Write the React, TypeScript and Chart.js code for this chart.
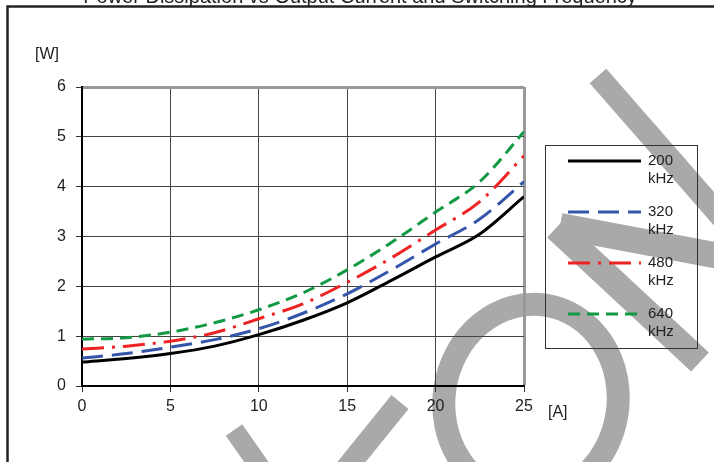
import React, { useEffect, useRef } from "react";
import { Chart, registerables } from "chart.js";

Chart.register(...registerables);

const currentA = [0, 2.5, 5, 7.5, 10, 12.5, 15, 17.5, 20, 22.5, 25];
const p200 = [0.48, 0.55, 0.65, 0.8, 1.03, 1.32, 1.67, 2.12, 2.59, 3.05, 3.8];
const p320 = [0.56, 0.65, 0.78, 0.93, 1.15, 1.46, 1.85, 2.33, 2.85, 3.35, 4.1];
const p480 = [0.74, 0.8, 0.9, 1.07, 1.35, 1.65, 2.08, 2.57, 3.13, 3.7, 4.62];
const p640 = [0.94, 0.97, 1.08, 1.27, 1.53, 1.87, 2.33, 2.88, 3.49, 4.1, 5.1];
const seriesLabels = ["200\nkHz", "320\nkHz", "480\nkHz", "640\nkHz"];
const xTicks = [0, 5, 10, 15, 20, 25];
const yTicks = [0, 1, 2, 3, 4, 5, 6];
const titleText = "Power Dissipation vs Output Current and Switching Frequency";
const xUnit = "[A]";
const yUnit = "[W]";

const FONT = "'Liberation Sans', Arial, sans-serif";

const decorPlugin = {
  id: "decor",
  beforeDraw(chart: any) {
    const ctx = chart.ctx;
    ctx.save();
    ctx.fillStyle = "#fff";
    ctx.fillRect(0, 0, chart.width, chart.height);
    // watermark
    ctx.strokeStyle = "#a9a9a9";
    ctx.lineCap = "butt";
    ctx.lineWidth = 23;
    ctx.beginPath();
    ctx.ellipse(531, 401, 87, 97, 0.15, 0, Math.PI * 2);
    ctx.stroke();
    ctx.lineWidth = 22;
    ctx.beginPath();
    ctx.moveTo(598, 76);
    ctx.lineTo(730, 227);
    ctx.stroke();
    ctx.lineWidth = 26;
    ctx.beginPath();
    ctx.moveTo(560, 226);
    ctx.lineTo(730, 258);
    ctx.stroke();
    ctx.beginPath();
    ctx.moveTo(556, 228);
    ctx.lineTo(700, 362);
    ctx.stroke();
    ctx.lineWidth = 22;
    ctx.beginPath();
    ctx.moveTo(400, 402);
    ctx.lineTo(345, 470);
    ctx.stroke();
    ctx.lineWidth = 20;
    ctx.beginPath();
    ctx.moveTo(234, 430);
    ctx.lineTo(262, 470);
    ctx.stroke();
    ctx.restore();
  },
  afterDraw(chart: any) {
    const ctx = chart.ctx;
    const area = chart.chartArea;
    ctx.save();
    // units
    ctx.fillStyle = "#222";
    ctx.font = `16px ${FONT}`;
    ctx.textBaseline = "middle";
    ctx.textAlign = "left";
    ctx.fillText(yUnit, 35, 55);
    ctx.fillText(xUnit, area.right + 24, 413);
    // legend
    const lx = area.right + 21;
    const ly = 145;
    ctx.strokeStyle = "#333";
    ctx.lineWidth = 1;
    ctx.strokeRect(lx + 0.5, ly + 0.5, 152, 203);
    chart.data.datasets.forEach((ds: any, i: number) => {
      const y = ly + 16 + i * 51;
      ctx.beginPath();
      ctx.strokeStyle = ds.borderColor;
      ctx.lineWidth = ds.borderWidth;
      ctx.setLineDash(ds.borderDash || []);
      ctx.moveTo(lx + 23, y);
      ctx.lineTo(lx + 96, y);
      ctx.stroke();
      ctx.setLineDash([]);
      const parts = String(ds.label).split("\n");
      ctx.fillStyle = "#222";
      ctx.font = `15px ${FONT}`;
      parts.forEach((p: string, j: number) => ctx.fillText(p, lx + 103, y + j * 18));
    });
    // frame and title
    ctx.strokeStyle = "#222";
    ctx.lineWidth = 2.5;
    ctx.beginPath();
    ctx.moveTo(7.5, chart.height);
    ctx.lineTo(7.5, 6.5);
    ctx.lineTo(chart.width, 6.5);
    ctx.stroke();
    ctx.fillStyle = "#222";
    ctx.font = `20px ${FONT}`;
    ctx.textAlign = "center";
    ctx.textBaseline = "alphabetic";
    ctx.fillText(titleText, 360, 3);
    ctx.restore();
  },
};

export default function App() {
  const ref = useRef<HTMLCanvasElement>(null);
  useEffect(() => {
    if (!ref.current) return;
    const mk = (label: string, data: number[], color: string, dash: number[]) => ({
      label,
      data: currentA.map((x, i) => ({ x, y: data[i] })),
      borderColor: color,
      backgroundColor: color,
      borderWidth: 3,
      borderDash: dash,
      pointRadius: 0,
      cubicInterpolationMode: "monotone" as const,
      fill: false,
    });
    const chart = new Chart(ref.current, {
      type: "line",
      data: {
        datasets: [
          mk(seriesLabels[0], p200, "#000000", []),
          mk(seriesLabels[1], p320, "#3355aa", [21, 9]),
          mk(seriesLabels[2], p480, "#ee2222", [22, 8, 3, 8]),
          mk(seriesLabels[3], p640, "#119944", [12, 7]),
        ],
      },
      options: {
        animation: false,
        responsive: false,
        maintainAspectRatio: false,
        layout: { padding: { left: 0, top: 87, right: 190, bottom: 0 } },
        plugins: { legend: { display: false }, tooltip: { enabled: false } },
        scales: {
          x: {
            type: "linear",
            min: xTicks[0],
            max: xTicks[xTicks.length - 1],
            afterBuildTicks: (s: any) => {
              s.ticks = xTicks.map((v) => ({ value: v }));
            },
            afterFit: (s: any) => {
              s.height = 76;
            },
            ticks: { color: "#222", font: { family: FONT, size: 16 }, padding: 5, maxRotation: 0 },
            grid: {
              color: (c: any) => (c.tick && c.tick.value === 25 ? "#999" : "#444"),
              lineWidth: (c: any) => (c.tick && c.tick.value === 25 ? 3 : 1),
              tickLength: 6,
              tickColor: "#333",
              tickWidth: 1,
            },
            border: { color: "#000", width: 2 },
          },
          y: {
            type: "linear",
            min: yTicks[0],
            max: yTicks[yTicks.length - 1],
            afterBuildTicks: (s: any) => {
              s.ticks = yTicks.map((v) => ({ value: v }));
            },
            afterFit: (s: any) => {
              s.width = 82;
            },
            ticks: { color: "#222", font: { family: FONT, size: 16 }, padding: 10 },
            grid: {
              color: (c: any) => (c.tick && c.tick.value === 6 ? "#999" : "#444"),
              lineWidth: (c: any) => (c.tick && c.tick.value === 6 ? 3 : 1),
              tickLength: 6,
              tickColor: "#333",
              tickWidth: 1,
            },
            border: { color: "#000", width: 2 },
          },
        },
      },
      plugins: [decorPlugin],
    });
    return () => chart.destroy();
  }, []);
  return (
    <div style={{ position: "fixed", left: 0, top: 0, width: 714, height: 462, background: "#fff" }}>
      <canvas ref={ref} width={714} height={462} style={{ display: "block" }} />
    </div>
  );
}
